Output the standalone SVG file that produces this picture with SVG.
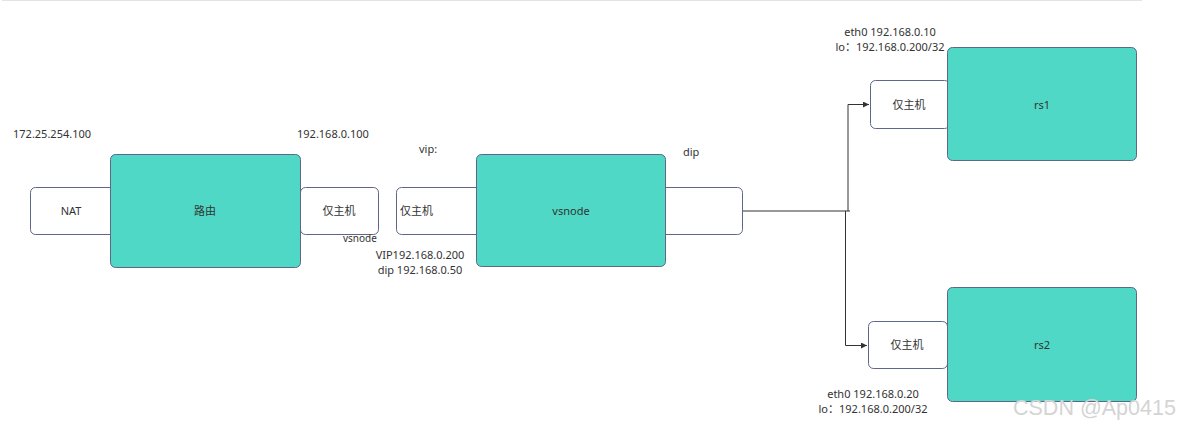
<svg xmlns="http://www.w3.org/2000/svg" width="1179" height="427" viewBox="0 0 1179 427">
<style>
.w{fill:#ffffff;stroke:#5f6688;stroke-width:1}
.t{fill:#4fd8c5;stroke:#5f6688;stroke-width:1}
text{font-family:"Noto Sans","Noto Sans CJK SC",sans-serif;font-size:11px;fill:#333}
.c{text-anchor:middle}
.conn{fill:none;stroke:#333;stroke-width:1}
</style>
<defs>
<marker id="ah" markerWidth="8" markerHeight="8" refX="6" refY="3" orient="auto" markerUnits="userSpaceOnUse">
<path d="M0,0 L6,3 L0,6 Z" fill="#333"/>
</marker>
</defs>
<rect width="1179" height="427" fill="#fff"/>
<line x1="2" y1="0.5" x2="1142" y2="0.5" stroke="#e3e3e3" stroke-width="1"/>

<g id="nat"><rect class="w" x="30.5" y="187.5" width="90" height="47" rx="5"/><text class="c" x="71" y="215">NAT</text></g>
<g id="host1"><rect class="w" x="300.5" y="187.5" width="78" height="47" rx="5"/><text class="c" x="339" y="215">仅主机</text></g>
<g id="router"><rect class="t" x="110.5" y="154.5" width="190" height="113" rx="5"/><text class="c" x="205" y="215">路由</text></g>

<g id="host2"><rect class="w" x="396.5" y="187.5" width="90" height="47" rx="5"/><text x="400" y="215">仅主机</text></g>
<g id="dipbox"><rect class="w" x="650.5" y="187.5" width="92" height="47" rx="5"/></g>
<g id="vsnode"><rect class="t" x="476.5" y="154.5" width="189" height="112" rx="5"/><text class="c" x="571" y="215">vsnode</text></g>

<g id="host3"><rect class="w" x="870.5" y="80.5" width="79" height="48" rx="5"/><text class="c" x="909" y="109">仅主机</text></g>
<g id="rs1"><rect class="t" x="947.5" y="47.5" width="189" height="113" rx="5"/><text class="c" x="1042" y="109">rs1</text></g>

<g id="host4"><rect class="w" x="868.5" y="321.5" width="79" height="47" rx="5"/><text class="c" x="907" y="349">仅主机</text></g>
<g id="rs2"><rect class="t" x="947.5" y="287.5" width="189" height="114" rx="5"/><text class="c" x="1042" y="349">rs2</text></g>

<g id="connectors">
<polyline class="conn" points="743,211 850,211"/>
<polyline class="conn" points="848,211 848,104.5 869,104.5" marker-end="url(#ah)"/>
<polyline class="conn" points="845.5,211 845.5,345.5 867,345.5" marker-end="url(#ah)"/>
</g>

<g id="labels">
<text x="13" y="138">172.25.254.100</text>
<text x="297" y="138">192.168.0.100</text>
<text x="343" y="242" style="font-size:10px">vsnode</text>
<text x="419" y="153">vip:</text>
<text x="683" y="156">dip</text>
<text class="c" x="420" y="259">VIP192.168.0.200</text>
<text class="c" x="420" y="274">dip 192.168.0.50</text>
<text class="c" x="890" y="36">eth0 192.168.0.10</text>
<text class="c" x="890" y="51">lo：192.168.0.200/32</text>
<text class="c" x="873" y="398">eth0 192.168.0.20</text>
<text class="c" x="873" y="413">lo：192.168.0.200/32</text>
<text x="1013" y="415" style="font-size:21.5px;fill:#d4d4d4;font-family:'Liberation Sans',sans-serif">CSDN @Ap0415</text>
</g>
</svg>
